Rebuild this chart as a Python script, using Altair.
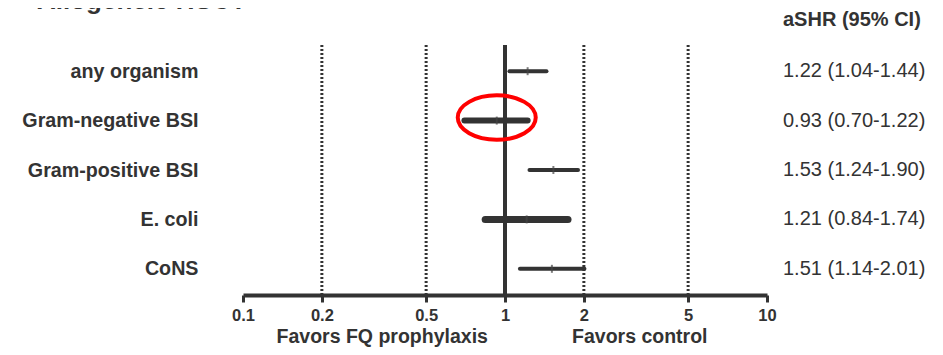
import altair as alt
import pandas as pd

# ---- data ----
categories = ["any organism", "Gram-negative BSI", "Gram-positive BSI", "E. coli", "CoNS"]
hr = [1.22, 0.93, 1.53, 1.21, 1.51]
ci_low = [1.04, 0.70, 1.24, 0.84, 1.14]
ci_high = [1.44, 1.22, 1.90, 1.74, 2.01]
ci_text = ["1.22 (1.04-1.44)", "0.93 (0.70-1.22)", "1.53 (1.24-1.90)",
           "1.21 (0.84-1.74)", "1.51 (1.14-2.01)"]
x_ticks = [0.1, 0.2, 0.5, 1, 2, 5, 10]
dotted_refs = [0.2, 0.5, 2, 5]
null_value = [1]
highlighted = ["Gram-negative BSI"]
panel_title = "Allogeneic HSCT"
column_header = "aSHR (95% CI)"
favors_labels = ["Favors FQ prophylaxis", "Favors control"]
favors_at = [0.34, 3.27]

# ---- styles (kept apart from the data) ----
INK = "#333333"
FONT = "Liberation Sans"
BAR_WIDTH = {"any organism": 4, "Gram-negative BSI": 6, "Gram-positive BSI": 4,
             "E. coli": 7, "CoNS": 4}
ELLIPSE = "M -1 0 A 1 0.57 0 1 1 1 0 A 1 0.57 0 1 1 -1 0 Z"

df = pd.DataFrame({"cat": categories, "hr": hr, "lo": ci_low, "hi": ci_high,
                   "txt": ci_text})
df["bw"] = df["cat"].map(BAR_WIDTH)

xscale = alt.Scale(type="log", domain=[0.1, 10], nice=False)
yscale = alt.Scale(type="point", domain=categories, padding=0.53)

x_axis = alt.Axis(values=x_ticks, format="~g", grid=False, title=None,
                  domainWidth=4, domainColor=INK, tickColor=INK, tickWidth=3,
                  tickSize=7, labelFontSize=16.5, labelFontWeight="bold",
                  labelColor=INK, labelFont=FONT, labelPadding=5,
                  labelFlush=False, labelOverlap=False)
y_axis = alt.Axis(title=None, domain=False, ticks=False, grid=False,
                  labelFontSize=19.7, labelFontWeight="bold", labelColor=INK,
                  labelFont=FONT, labelPadding=45)

base = alt.Chart(df)

dotted = alt.Chart(pd.DataFrame({"v": dotted_refs})).mark_rule(
    color=INK, strokeWidth=3, strokeDash=[2, 2]
).encode(x=alt.X("v:Q", scale=xscale, axis=x_axis))

null_line = alt.Chart(pd.DataFrame({"v": null_value})).mark_rule(
    color=INK, strokeWidth=4
).encode(x=alt.X("v:Q", scale=xscale))

bars = base.mark_rule(color=INK, strokeCap="round").encode(
    x=alt.X("lo:Q", scale=xscale),
    x2="hi:Q",
    y=alt.Y("cat:N", scale=yscale, axis=y_axis, sort=categories),
    size=alt.Size("bw:Q", scale=None, legend=None),
)

points = base.mark_tick(color="#444444", size=8, thickness=2).encode(
    x=alt.X("hr:Q", scale=xscale),
    y=alt.Y("cat:N", scale=yscale, sort=categories),
)

ci_col = base.mark_text(align="left", baseline="middle", fontSize=20,
                        color=INK, font=FONT).encode(
    x=alt.value(540),
    y=alt.Y("cat:N", scale=yscale, sort=categories),
    text="txt:N",
)

header = alt.Chart(pd.DataFrame({"t": [column_header]})).mark_text(
    align="left", baseline="middle", fontSize=20, fontWeight="bold",
    color=INK, font=FONT
).encode(x=alt.value(540), y=alt.value(-25), text="t:N")

title_txt = alt.Chart(pd.DataFrame({"t": [panel_title]})).mark_text(
    align="left", baseline="bottom", fontSize=26, fontWeight="bold",
    color=INK, font=FONT
).encode(x=alt.value(-206), y=alt.value(-31), text="t:N")

favors = alt.Chart(pd.DataFrame({"t": favors_labels, "x": favors_at})).mark_text(
    align="center", baseline="alphabetic", fontSize=19.5, fontWeight="bold",
    color=INK, font=FONT
).encode(x=alt.X("x:Q", scale=xscale), y=alt.value(298), text="t:N")

ring = base.transform_filter(
    alt.FieldOneOfPredicate(field="cat", oneOf=highlighted)
).mark_point(shape=ELLIPSE, size=6084, filled=False, stroke="#ff0000",
             strokeWidth=4, opacity=1, yOffset=-3).encode(
    x=alt.X("hr:Q", scale=xscale),
    y=alt.Y("cat:N", scale=yscale, sort=categories),
)

chart = alt.layer(
    dotted, null_line, bars, points, ring, ci_col, header, title_txt, favors
).properties(
    width=524, height=250,
    autosize=alt.AutoSizeParams(type="none"),
    padding={"left": 235, "top": 37, "right": 168, "bottom": 52},
).configure_view(stroke=None)

chart.save("out.html", embed_options={"renderer": "svg", "actions": False})
